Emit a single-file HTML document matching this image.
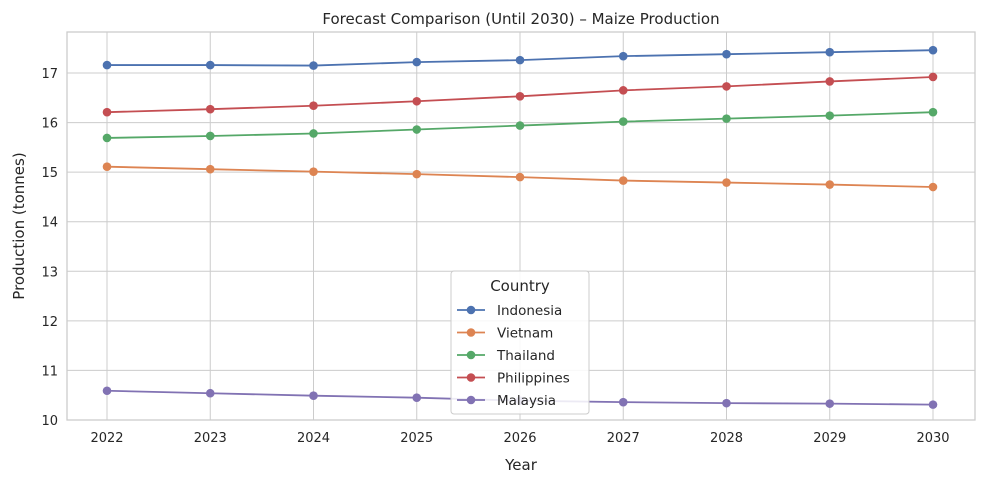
<!DOCTYPE html>
<html><head><meta charset="utf-8">
<style>
body{margin:0;background:#fff;font-family:"Liberation Sans","DejaVu Sans",sans-serif;}
svg text{font-family:"DejaVu Sans","Liberation Sans",sans-serif;fill:#262626;}
</style></head>
<body>
<svg id="chart" width="984" height="484" viewBox="0 0 984 484"></svg>
<script>
const years = [2022,2023,2024,2025,2026,2027,2028,2029,2030];
const yTicks = [10,11,12,13,14,15,16,17];
const seriesNames = ["Indonesia","Vietnam","Thailand","Philippines","Malaysia"];
const seriesColors = ["#4c72b0","#dd8452","#55a868","#c44e52","#8172b3"];
const indonesia = [17.16,17.16,17.15,17.22,17.26,17.34,17.38,17.42,17.46];
const vietnam = [15.11,15.06,15.01,14.96,14.90,14.83,14.79,14.75,14.70];
const thailand = [15.69,15.73,15.78,15.86,15.94,16.02,16.08,16.14,16.21];
const philippines = [16.21,16.27,16.34,16.43,16.53,16.65,16.73,16.83,16.92];
const malaysia = [10.59,10.54,10.49,10.45,10.39,10.36,10.34,10.33,10.31];
const seriesData = [indonesia,vietnam,thailand,philippines,malaysia];

const NS="http://www.w3.org/2000/svg";
const svg=document.getElementById('chart');
const L=67,R=975,T=32,B=420;
const X0=107,X1=933;
function xs(v){return X0+(v-years[0])/(years[years.length-1]-years[0])*(X1-X0);}
function ys(v){return 420-(v-10)*49.57;}
function mk(tag,attrs,parent){const e=document.createElementNS(NS,tag);for(const k in attrs)e.setAttribute(k,attrs[k]);(parent||svg).appendChild(e);return e;}

// grid
years.forEach(y=>{const l=mk('line',{x1:xs(y),x2:xs(y),y1:T,y2:B,stroke:'#cccccc','stroke-width':1});


const t=mk('text',{x:xs(y),y:B+22,'text-anchor':'middle','font-size':13});t.textContent=y;

});
yTicks.forEach(v=>{const l=mk('line',{x1:L,x2:R,y1:ys(v),y2:ys(v),stroke:'#cccccc','stroke-width':1});


const t=mk('text',{x:L-9,y:ys(v)+5,'text-anchor':'end','font-size':13});t.textContent=v;

});
const fr=mk('rect',{x:L,y:T,width:R-L,height:B-T,fill:'none',stroke:'#cccccc','stroke-width':1.3});



// series
seriesData.forEach((d,i)=>{
 const g=mk('g',{});
 
 
 mk('polyline',{points:d.map((v,j)=>xs(years[j])+','+ys(v)).join(' '),fill:'none',stroke:seriesColors[i],'stroke-width':1.8},g);
 d.forEach((v,j)=>{const c=mk('circle',{cx:xs(years[j]),cy:ys(v),r:4.3,fill:seriesColors[i]},g);
 
 });
});

// titles
let t=mk('text',{x:(L+R)/2,y:24,'text-anchor':'middle','font-size':15});t.textContent='Forecast Comparison (Until 2030) – Maize Production';


t=mk('text',{x:(L+R)/2,y:470,'text-anchor':'middle','font-size':15});t.textContent='Year';


t=mk('text',{x:24,y:(T+B)/2,'text-anchor':'middle','font-size':15,transform:'rotate(-90 24 '+((T+B)/2)+')'});t.textContent='Production (tonnes)';



// legend
const lg=mk('g',{});


mk('rect',{x:451,y:271,width:138,height:143,rx:3,fill:'#ffffff','fill-opacity':0.85,stroke:'#cccccc'},lg);
t=mk('text',{x:520,y:291,'text-anchor':'middle','font-size':15},lg);t.textContent='Country';


seriesNames.forEach((n,i)=>{
 const y=310+i*22.5;
 const e=mk('g',{},lg);
 
 
 mk('line',{x1:457,x2:485,y1:y,y2:y,stroke:seriesColors[i],'stroke-width':1.8},e);
 mk('circle',{cx:471,cy:y,r:4.3,fill:seriesColors[i]},e);
 const tx=mk('text',{x:497,y:y+5,'font-size':13.5},e);tx.textContent=n;
});
</script>
</body></html>
